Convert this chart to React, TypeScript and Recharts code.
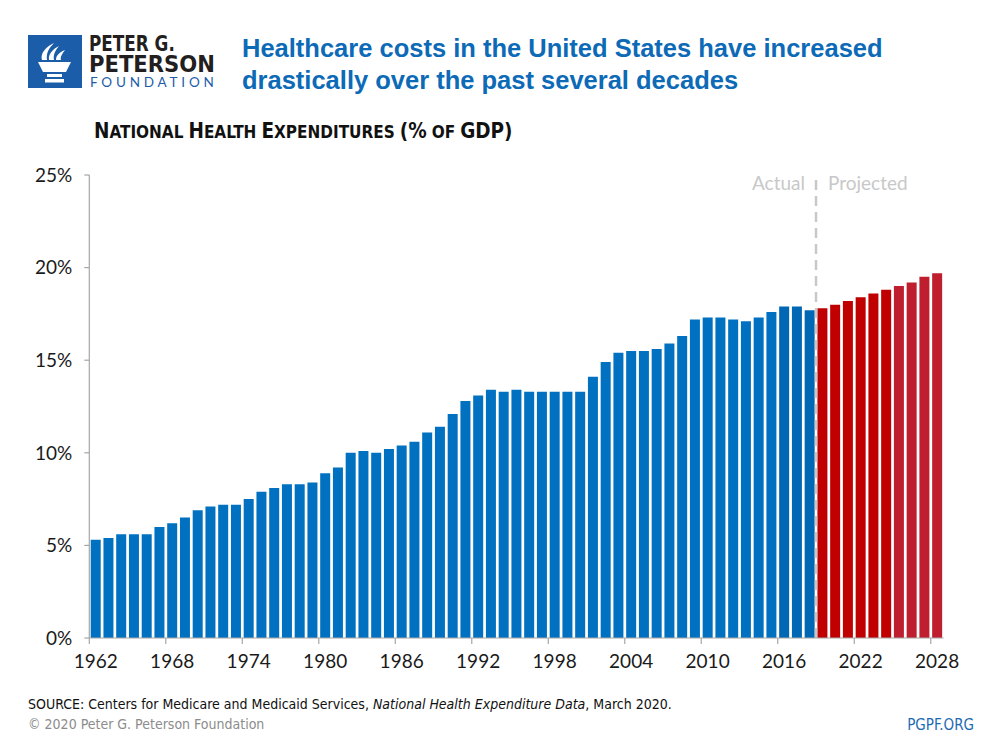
import React from 'react';
import { Bar, BarChart, Cell, ReferenceLine, XAxis, YAxis } from 'recharts';

// National health expenditures as % of GDP
const years = [
  1962, 1963, 1964, 1965, 1966, 1967, 1968, 1969, 1970, 1971,
  1972, 1973, 1974, 1975, 1976, 1977, 1978, 1979, 1980, 1981,
  1982, 1983, 1984, 1985, 1986, 1987, 1988, 1989, 1990, 1991,
  1992, 1993, 1994, 1995, 1996, 1997, 1998, 1999, 2000, 2001,
  2002, 2003, 2004, 2005, 2006, 2007, 2008, 2009, 2010, 2011,
  2012, 2013, 2014, 2015, 2016, 2017, 2018, 2019, 2020, 2021,
  2022, 2023, 2024, 2025, 2026, 2027, 2028,
];

// 1962-2018
const actualShare = [
  5.3, 5.4, 5.6, 5.6, 5.6, 6.0, 6.2, 6.5, 6.9, 7.1,
  7.2, 7.2, 7.5, 7.9, 8.1, 8.3, 8.3, 8.4, 8.9, 9.2,
  10.0, 10.1, 10.0, 10.2, 10.4, 10.6, 11.1, 11.4, 12.1, 12.8,
  13.1, 13.4, 13.3, 13.4, 13.3, 13.3, 13.3, 13.3, 13.3, 14.1,
  14.9, 15.4, 15.5, 15.5, 15.6, 15.9, 16.3, 17.2, 17.3, 17.3,
  17.2, 17.1, 17.3, 17.6, 17.9, 17.9, 17.7,
];

// 2019-2028
const projectedShare = [17.8, 18.0, 18.2, 18.4, 18.6, 18.8, 19.0, 19.2, 19.5, 19.7];

const yTicks = [0, 5, 10, 15, 20, 25];
const xTickYears = [1962, 1968, 1974, 1980, 1986, 1992, 1998, 2004, 2010, 2016, 2022, 2028];

const FIRST_PROJECTED = 2019;

const data = years.map((year, i) => ({
  year,
  actual: i < actualShare.length ? actualShare[i] : null,
  projected: i >= actualShare.length ? projectedShare[i - actualShare.length] : null,
}));

const CHART_W = 1000;
const CHART_H = 750;
const MARGIN = { top: 175, right: 56.5, bottom: 72, left: 29.3 };
const Y_AXIS_W = 60;
const PLOT_W = CHART_W - MARGIN.left - MARGIN.right - Y_AXIS_W;
const BAND = PLOT_W / years.length;

const axisFont = 'Lato, "Noto Sans", sans-serif';
const narrowFont = '"Liberation Sans Narrow", "DejaVu Sans Condensed", sans-serif';
const AXIS_GREY = '#a6a6a6';

const blueFor = (year: number) => (year >= 2016 ? '#0067b4' : '#0070c0');
const redFor = (year: number) => (year >= 2025 ? '#be1e2d' : '#c00000');

const YearTick = (props: any) => {
  const { x, y, payload } = props;
  const edge = x - BAND / 2;
  return (
    <g>
      <line x1={edge} x2={edge} y1={y} y2={y + 6} stroke={AXIS_GREY} strokeWidth={1.2} />
      <text x={x} y={y + 30} textAnchor="middle" fontSize={19} fontFamily={axisFont} fill="#1a1a1a">
        {payload.value}
      </text>
    </g>
  );
};

const ForecastLabel = (props: any) => {
  const { viewBox } = props;
  if (!viewBox) return null;
  const { x, y } = viewBox;
  return (
    <g fontFamily={axisFont} fontSize={19} fill="#c8c8c8">
      <text x={x - 11} y={y + 15} textAnchor="end">Actual</text>
      <text x={x + 12} y={y + 15} textAnchor="start">Projected</text>
    </g>
  );
};

// first letter of each word full size, the rest as shrunken capitals
const SmallCaps = ({ text, big, small }: { text: string; big: number; small: number }) => {
  const words = text.split(' ');
  return (
    <>
      {words.map((w, i) => {
        let body: React.ReactNode;
        if (w === '(%' || w === 'GDP)') body = <span style={{ fontSize: big }}>{w}</span>;
        else if (w === 'OF') body = <span style={{ fontSize: small }}>{w}</span>;
        else
          body = (
            <>
              <span style={{ fontSize: big }}>{w[0]}</span>
              <span style={{ fontSize: small }}>{w.slice(1)}</span>
            </>
          );
        return (
          <React.Fragment key={i}>
            {i > 0 ? ' ' : ''}
            {body}
          </React.Fragment>
        );
      })}
    </>
  );
};

const Logo = () => (
  <div style={{ position: 'absolute', left: 28, top: 35, width: 200, height: 54 }}>
    <svg width={54} height={53} style={{ position: 'absolute', left: 0, top: 0 }}>
      <rect x={0} y={0} width={54} height={53} fill="#1c5da9" />
      <path d="M14 25 C 12 18, 18 12, 26 8 C 21 13, 18 18, 19 25 Z" fill="#fff" />
      <path d="M21 25 C 20 19, 25 14, 31 11 C 27 16, 25 20, 26 25 Z" fill="#fff" />
      <path d="M28 25 C 28 20, 32 17, 37 15 C 34 19, 32 22, 33 25 Z" fill="#fff" />
      <path d="M10 27 L 43 27 L 38 37 L 15 37 Z" fill="#fff" />
      <rect x={19} y={39} width={15} height={3} fill="#fff" />
      <rect x={17} y={44} width={19} height={3.5} fill="#fff" />
    </svg>
    <div
      style={{
        position: 'absolute', left: 61, top: -2, height: 20, fontFamily: narrowFont, fontWeight: 'bold',
        fontSize: 21.5, color: '#231f20', lineHeight: '22px', whiteSpace: 'nowrap',
        transform: 'scaleX(0.87)', transformOrigin: 'left top',
      }}
    >
      PETER G.
    </div>
    <div
      style={{
        position: 'absolute', left: 61, top: 17, height: 22, fontFamily: narrowFont, fontWeight: 'bold',
        fontSize: 23.5, color: '#231f20', lineHeight: '24px', whiteSpace: 'nowrap',
      }}
    >
      PETERSON
    </div>
    <div
      style={{
        position: 'absolute', left: 62, top: 40, height: 14, fontFamily: 'Lato, sans-serif',
        fontSize: 13.5, color: '#1c5da9', letterSpacing: 3.8, lineHeight: '14px', whiteSpace: 'nowrap',
      }}
    >
      FOUNDATION
    </div>
  </div>
);

export default function App() {
  return (
    <div
      style={{
        position: 'absolute', left: 0, top: 0, width: CHART_W, height: CHART_H,
        background: '#fff', overflow: 'hidden',
      }}
    >
      <Logo />
      <div
        style={{
          position: 'absolute', left: 242, top: 33, fontFamily: '"Liberation Sans", Arial, sans-serif',
          fontWeight: 'bold', fontSize: 25.5, lineHeight: '31.7px', color: '#0d6ab7', whiteSpace: 'nowrap',
        }}
      >
        Healthcare costs in the United States have increased
        <br />
        drastically over the past several decades
      </div>
      <div
        style={{
          position: 'absolute', left: 94, top: 118, fontFamily: narrowFont, fontWeight: 'bold',
          color: '#111', lineHeight: '26px', whiteSpace: 'nowrap',
        }}
      >
        <SmallCaps text="NATIONAL HEALTH EXPENDITURES (% OF GDP)" big={20.5} small={17} />
      </div>

      <BarChart width={CHART_W} height={CHART_H} data={data} margin={MARGIN} barCategoryGap="11%">
        <XAxis
          dataKey="year"
          type="category"
          ticks={xTickYears}
          interval={0}
          tickLine={false}
          tickSize={0}
          tickMargin={0}
          height={40}
          axisLine={{ stroke: AXIS_GREY, strokeWidth: 1.2 }}
          tick={<YearTick />}
        />
        <YAxis
          width={Y_AXIS_W}
          domain={[0, 25]}
          ticks={yTicks}
          tickFormatter={(v: number) => `${v}%`}
          tickSize={5}
          tickMargin={12}
          axisLine={{ stroke: AXIS_GREY, strokeWidth: 1.2 }}
          tickLine={{ stroke: AXIS_GREY, strokeWidth: 1.2 }}
          tick={{ fontSize: 19, fontFamily: axisFont, fill: '#1a1a1a' }}
        />
        <Bar dataKey="actual" stackId="nhe" fill="#0070c0" isAnimationActive={false}>
          {data.map((d) => (
            <Cell key={d.year} fill={blueFor(d.year)} />
          ))}
        </Bar>
        <Bar dataKey="projected" stackId="nhe" fill="#c00000" isAnimationActive={false}>
          {data.map((d) => (
            <Cell key={d.year} fill={redFor(d.year)} />
          ))}
        </Bar>
        <ReferenceLine
          x={FIRST_PROJECTED}
          position="start"
          stroke="#c8c8c8"
          strokeWidth={2.5}
          strokeDasharray="10 6"
          label={<ForecastLabel />}
        />
      </BarChart>

      <div
        style={{
          position: 'absolute', left: 28, top: 696, fontFamily: narrowFont, fontSize: 14,
          color: '#111', whiteSpace: 'nowrap',
        }}
      >
        SOURCE: Centers for Medicare and Medicaid Services, <i>National Health Expenditure Data</i>, March 2020.
      </div>
      <div
        style={{
          position: 'absolute', left: 28, top: 716, fontFamily: narrowFont, fontSize: 14,
          color: '#8c8c8c', whiteSpace: 'nowrap',
        }}
      >
        © 2020 Peter G. Peterson Foundation
      </div>
      <div
        style={{
          position: 'absolute', right: 26, top: 716, fontFamily: narrowFont, fontSize: 15,
          color: '#1c6ab4', whiteSpace: 'nowrap',
        }}
      >
        PGPF.ORG
      </div>
    </div>
  );
}
